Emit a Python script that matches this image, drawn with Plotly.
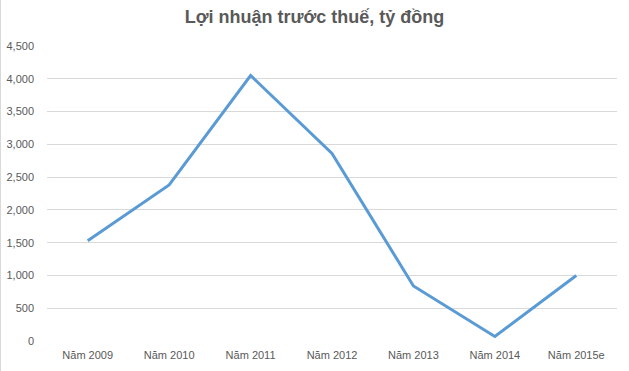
import plotly.graph_objects as go

categories = ["Năm 2009", "Năm 2010", "Năm 2011", "Năm 2012", "Năm 2013", "Năm 2014", "Năm 2015e"]
profit = [1530, 2380, 4050, 2860, 840, 70, 1000]
y_ticks = [0, 500, 1000, 1500, 2000, 2500, 3000, 3500, 4000, 4500]
y_tick_labels = ["0", "500", "1,000", "1,500", "2,000", "2,500", "3,000", "3,500", "4,000", "4,500"]

W, H = 629, 371
ml, mr, mt, mb = 47, 12, 46, 30

fig = go.Figure(go.Scatter(
    x=categories, y=profit, mode="lines",
    line=dict(color="#5B9BD5", width=3),
    hoverinfo="x+y",
))

fig.update_layout(
    width=W, height=H,
    margin=dict(l=ml, r=mr, t=mt, b=mb),
    paper_bgcolor="white", plot_bgcolor="white",
    showlegend=False,
    title=dict(text="<b>Lợi nhuận trước thuế, tỷ đồng</b>", x=0.5, xanchor="center",
               y=1 - 17 / H, yanchor="middle",
               font=dict(family="Liberation Sans, Arial", size=18, color="#595959")),
    font=dict(family="Liberation Sans, Arial", size=11, color="#595959"),
    xaxis=dict(range=[-0.5, len(categories) - 0.5], automargin=False,
               showgrid=False, showline=False, zeroline=False, ticks="",
               tickfont=dict(size=11, color="#595959"), ticklabelstandoff=6),
    yaxis=dict(range=[0, 4500], tickvals=y_ticks, ticktext=y_tick_labels, automargin=False,
               showgrid=True, gridcolor="#D9D9D9", gridwidth=1, zeroline=False,
               showline=False, ticks="", tickfont=dict(size=11, color="#595959"),
               ticklabelstandoff=12),
    shapes=[dict(type="line", xref="paper", yref="paper",
                 x0=-ml / (W - ml - mr), x1=-ml / (W - ml - mr),
                 y0=-mb / (H - mt - mb), y1=1 + mt / (H - mt - mb),
                 line=dict(color="#D9D9D9", width=2))],
)

fig.write_html("out.html")
